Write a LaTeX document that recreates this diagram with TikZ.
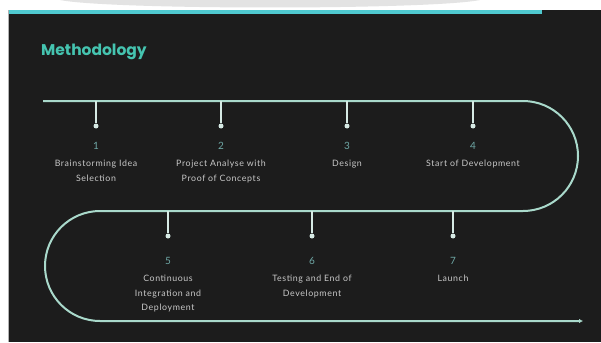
\documentclass[tikz,border=0pt]{standalone}
\usepackage{fontspec}
\setmainfont{Lato}
\newfontfamily\titlefont{Poppins}
\newfontfamily\labfont[LetterSpace=7]{Lato}
\usetikzlibrary{arrows.meta}
\definecolor{bgdark}{HTML}{1C1C1C}
\definecolor{barcyan}{HTML}{4FC9CF}
\definecolor{titlecyan}{HTML}{45C4B0}
\definecolor{track}{HTML}{A9D9CB}
\definecolor{dropc}{HTML}{D6EAE4}
\definecolor{numc}{HTML}{6FA8A6}
\definecolor{labc}{HTML}{C8C8C8}
\tikzset{
  trackline/.style={draw=track, line width=2pt},
  dropline/.style={draw=dropc, line width=1.3pt},
  dotnode/.style={circle, fill=dropc, inner sep=0pt, minimum size=5pt},
  numnode/.style={text=numc, font=\fontsize{10}{11}\selectfont, inner sep=0pt},
  labnode/.style={text=labc, font=\labfont\fontsize{8.8}{14.5}\selectfont, align=center, inner sep=0pt, anchor=north},
}
\begin{document}
\begin{tikzpicture}[x=1pt,y=1pt,yscale=-1]
\useasboundingbox (0,0) rectangle (601,342);
\fill[white] (0,0) rectangle (601,342);
\fill[gray!22] (60,0) .. controls (110,10) and (430,10) .. (480,0) -- cycle;
\fill[gray!60] (8,10) rectangle (9,342);
\fill[bgdark] (9,10) rectangle (601,342);
\fill[barcyan] (9,10) rectangle (542,14);
\node[text=titlecyan, font=\titlefont\bfseries\fontsize{15.5}{17}\selectfont, anchor=west, inner sep=0pt] (title) at (41,52) {Methodology};

% track
\coordinate (start) at (43,101);
\coordinate (t1) at (96,101);
\coordinate (t2) at (221,101);
\coordinate (t3) at (347,101);
\coordinate (t4) at (473,101);
\coordinate (t5) at (168,211);
\coordinate (t6) at (312,211);
\coordinate (t7) at (453,211);
\coordinate (endp) at (583,321);
\draw[trackline, -{Latex[length=4pt,width=4.5pt]}] (start) -- (523,101) arc[start angle=-90, end angle=90, radius=55pt]
  -- (100,211) arc[start angle=-90, end angle=-270, radius=55pt] -- (endp);

% drops
\foreach \i/\x/\y in {1/96/126,2/221/126,3/347/126,4/473/126,5/168/236,6/312/236,7/453/236}{
  \node[dotnode] (d\i) at (\x,\y) {};
  \draw[dropline] (t\i) -- (d\i);
}

% numbers
\node[numnode] (n1) at (96,146) {1};
\node[numnode] (n2) at (221,146) {2};
\node[numnode] (n3) at (347,146) {3};
\node[numnode] (n4) at (473,146) {4};
\node[numnode] (n5) at (168,261) {5};
\node[numnode] (n6) at (312,261) {6};
\node[numnode] (n7) at (453,261) {7};

% labels
\node[labnode] (l1) at (96,160) {Brainstorming Idea\\Selection};
\node[labnode] (l2) at (221,160) {Project Analyse with\\Proof of Concepts};
\node[labnode] (l3) at (347,160) {Design};
\node[labnode] (l4) at (473,160) {Start of Development};
\node[labnode] (l5) at (168,275) {Continuous\\Integration and\\Deployment};
\node[labnode] (l6) at (312,275) {Testing and End of\\Development};
\node[labnode] (l7) at (453,275) {Launch};
\end{tikzpicture}
\end{document}
